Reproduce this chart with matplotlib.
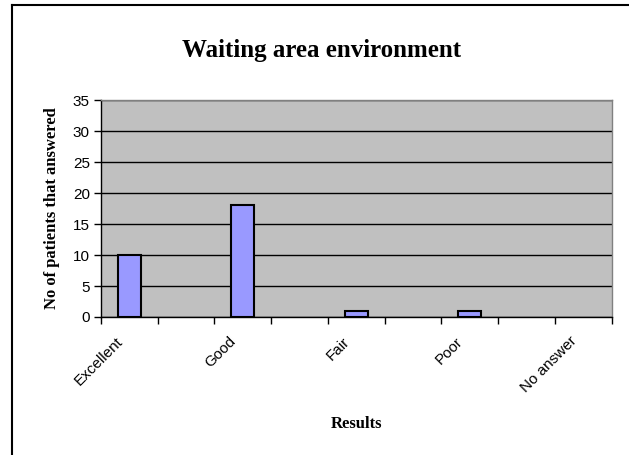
import numpy as np
import matplotlib.pyplot as plt
import matplotlib.transforms as mtransforms
from matplotlib.lines import Line2D

# categories (every other slot has no label, as in the source sheet)
categories = ["Excellent", "", "Good", "", "Fair", "", "Poor", "", "No answer"]
answers = [10, 0, 18, 0, 1, 0, 1, 0, 0]
yticks = [0, 5, 10, 15, 20, 25, 30, 35]

fig = plt.figure(figsize=(6.29, 4.55), dpi=100)
ax = fig.add_axes([0.1606, 0.3033, 0.8117, 0.4769])

x = np.arange(len(categories)) + 0.5
ax.set_facecolor('#c0c0c0')
bars = ax.bar(x, answers, width=0.4, color='#9999ff', edgecolor='black', linewidth=1.5, zorder=3)
# zero-height bars are not drawn in the original
for b, v in zip(bars, answers):
    if v == 0:
        b.set_visible(False)

ax.set_xlim(0, len(categories))
ax.set_ylim(0, 35)
ax.set_yticks(yticks)
ax.yaxis.grid(True, color='black', linewidth=1, zorder=1)
ax.set_axisbelow(True)

# labels at category centres, tick marks at boundaries
ax.set_xticks(x)
ax.set_xticklabels(categories, rotation=45, ha='right', va='center', rotation_mode='anchor',
                   fontfamily='Liberation Sans', fontsize=11)
ax.tick_params(axis='x', which='major', length=0, pad=16)
shift = mtransforms.ScaledTranslation(-9 / 100, 0, fig.dpi_scale_trans)
for lab in ax.get_xticklabels():
    lab.set_transform(lab.get_transform() + shift)
ax.set_xticks(np.arange(len(categories) + 1), minor=True)
ax.tick_params(axis='x', which='minor', length=5, width=1, direction='out', color='black')
ax.tick_params(axis='y', length=5, width=1, direction='out', color='black', pad=3)
for lab in ax.get_yticklabels():
    lab.set_fontfamily('Liberation Sans')
    lab.set_fontsize(11)

ax.spines['left'].set_color('black')
ax.spines['bottom'].set_color('black')
ax.spines['top'].set_color('#808080')
ax.spines['right'].set_color('#808080')
for s in ax.spines.values():
    s.set_linewidth(1)

ax.set_ylabel('No of patients that answered', fontfamily='Liberation Serif',
              fontweight='bold', fontsize=12, labelpad=9)
ax.set_xlabel('Results', fontfamily='Liberation Serif', fontweight='bold', fontsize=12)
ax.xaxis.set_label_coords(0.5, -0.455)

fig.text(0.512, 0.89, 'Waiting area environment', ha='center', va='center',
         fontfamily='Liberation Serif', fontweight='bold', fontsize=18)

# chart frame (left and top edges only visible)
fig.add_artist(Line2D([11.5 / 629, 11.5 / 629], [0, 1 - 4.5 / 455], color='black', lw=1.5))
fig.add_artist(Line2D([11.5 / 629, 1], [1 - 4.5 / 455, 1 - 4.5 / 455], color='black', lw=1.5))

plt.savefig('out.png', dpi=100)
